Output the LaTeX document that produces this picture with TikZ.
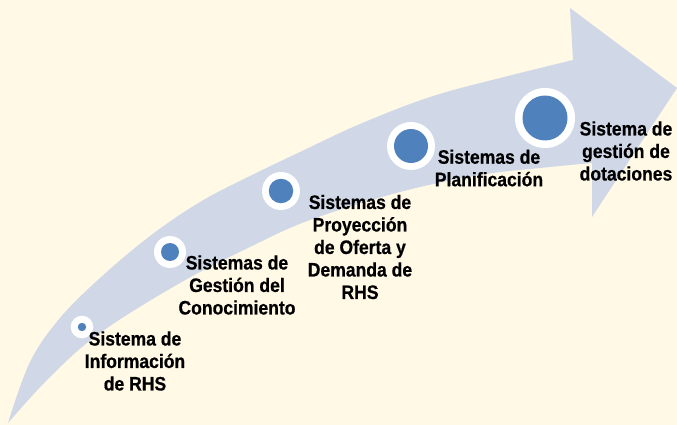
\documentclass[tikz,border=0pt]{standalone}
\usepackage{fontspec}
\newfontfamily\lblfont{Liberation Sans}[FakeStretch=0.9, BoldFeatures={FakeBold=0.6}]
\definecolor{bgcream}{HTML}{FFF9E6}
\definecolor{bandblue}{HTML}{D0D8E8}
\definecolor{dotblue}{HTML}{4F81BD}
\tikzset{
  band/.style={fill=bandblue, draw=none},
  ring/.style={circle, fill=white, draw=none, inner sep=0pt},
  dot/.style={circle, fill=dotblue, draw=none, inner sep=0pt},
  lbl/.style={align=center, inner sep=0pt, text=black,
    font=\lblfont\bfseries\fontsize{19.5}{22.5}\selectfont},
}
\begin{document}
\begin{tikzpicture}[x=1pt,y=-1pt]
\fill[bgcream] (0,0) rectangle (677,425);
\useasboundingbox (0,0) rectangle (677,425);
% arrow band
\fill[band] plot[smooth, tension=0.6] coordinates {(8,423) (30,362) (60,318) (100,278) (150,236) (200,202) (250,176) (300,152) (360,124) (430,97) (500,78) (573,60)}
  -- (570,8) -- (677,88) -- (592,217)
  -- plot[smooth, tension=0.6] coordinates {(592,163) (540,168) (480,175) (400,192) (310,220) (250,247) (180,283) (100,333) (50,377) (8,423)}
  -- cycle;
% milestones
\node[ring, minimum size=22.6pt] (c1) at (82,327) {};
\node[dot, minimum size=8.4pt] (d1) at (c1) {};
\node[ring, minimum size=32pt] (c2) at (170,252) {};
\node[dot, minimum size=18pt] (d2) at (c2) {};
\node[ring, minimum size=38pt] (c3) at (281,191) {};
\node[dot, minimum size=24.5pt] (d3) at (c3) {};
\node[ring, minimum size=48pt] (c4) at (411,146) {};
\node[dot, minimum size=34pt] (d4) at (c4) {};
\node[ring, minimum size=60pt] (c5) at (545,118) {};
\node[dot, minimum size=45pt] (d5) at (c5) {};
% labels
\node[lbl] (t1) at (135,361) {Sistema de\\Información\\de RHS};
\node[lbl] (t2) at (237,285) {Sistemas de\\Gestión del\\Conocimiento};
\node[lbl] (t3) at (360,247) {Sistemas de\\Proyección\\de Oferta y\\Demanda de\\RHS};
\node[lbl] (t4) at (489,168) {Sistemas de\\Planificación};
\node[lbl] (t5) at (626,151) {Sistema de\\gestión de\\dotaciones};
\end{tikzpicture}
\end{document}
